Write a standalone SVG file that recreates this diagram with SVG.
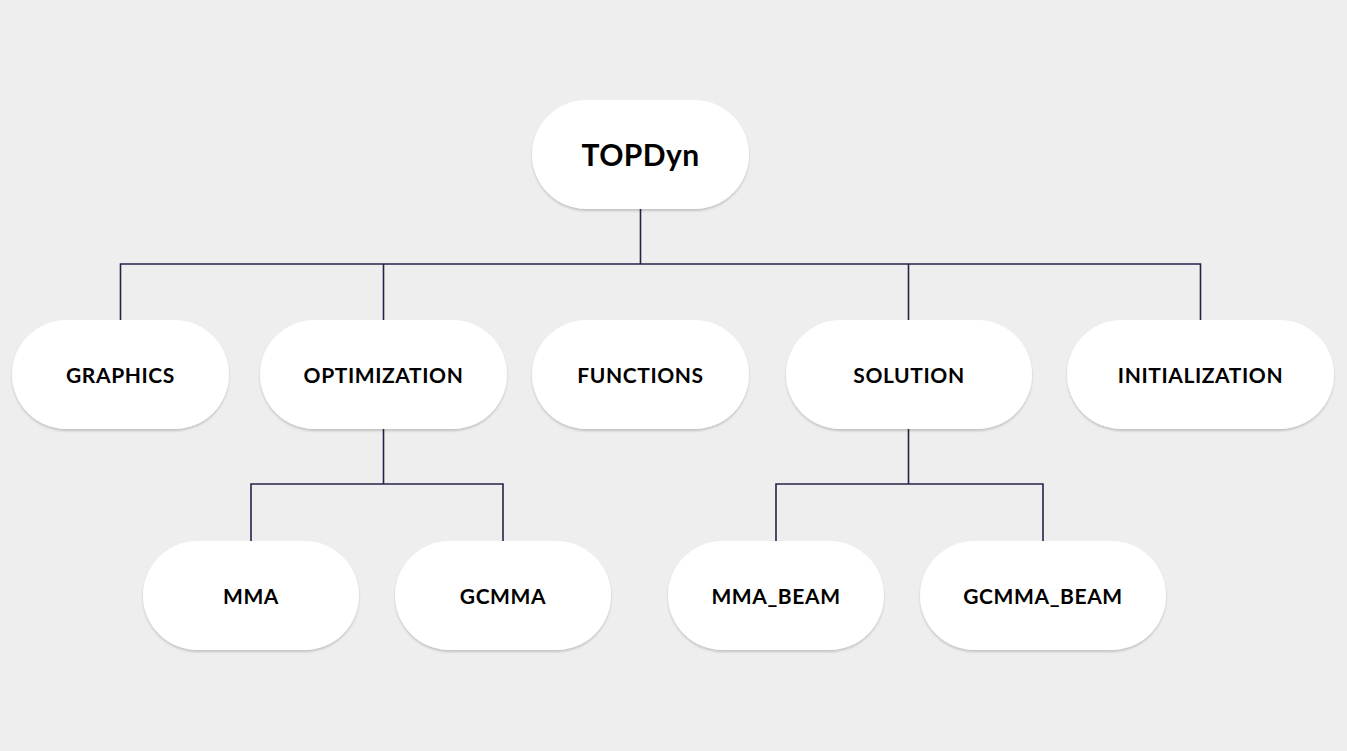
<svg xmlns="http://www.w3.org/2000/svg" width="1347" height="751" viewBox="0 0 1347 751">
<defs>
<filter id="sh" x="-10%" y="-10%" width="120%" height="130%">
<feDropShadow dx="0" dy="2" stdDeviation="1.2" flood-color="#000" flood-opacity="0.18"/>
</filter>
</defs>
<style>
.n{fill:#ffffff;filter:url(#sh)}
.t{font-family:"Lato","Open Sans",sans-serif;font-weight:700;font-size:21px;letter-spacing:0.6px;fill:#000;text-anchor:middle;dominant-baseline:central}
.big{font-size:30px;letter-spacing:0.4px}
.c{stroke:#24244a;stroke-width:1.6;fill:none}
</style>
<rect width="1347" height="751" fill="#eeeeee"/>
<g id="connectors">
<path class="c" d="M640.5 209V264M120.5 320V264H1200.5V320M383.5 264V320M908.5 264V320"/>
<path class="c" d="M383.5 429V484M251 541V484H503V541"/>
<path class="c" d="M908.5 429V484M776 541V484H1043V541"/>
</g>
<g id="topdyn"><rect class="n" x="532" y="100" width="217" height="109" rx="54.5"/><text class="t big" x="640.5" y="154">TOPDyn</text></g>
<g id="graphics"><rect class="n" x="12" y="320" width="217" height="109" rx="54.5"/><text class="t" x="120.5" y="374">GRAPHICS</text></g>
<g id="optimization"><rect class="n" x="260" y="320" width="247" height="109" rx="54.5"/><text class="t" x="383.5" y="374">OPTIMIZATION</text></g>
<g id="functions"><rect class="n" x="532" y="320" width="217" height="109" rx="54.5"/><text class="t" x="640.5" y="374">FUNCTIONS</text></g>
<g id="solution"><rect class="n" x="786" y="320" width="246" height="109" rx="54.5"/><text class="t" x="909" y="374">SOLUTION</text></g>
<g id="initialization"><rect class="n" x="1067" y="320" width="267" height="109" rx="54.5"/><text class="t" x="1200.5" y="374">INITIALIZATION</text></g>
<g id="mma"><rect class="n" x="143" y="541" width="216" height="109" rx="54.5"/><text class="t" x="251" y="595">MMA</text></g>
<g id="gcmma"><rect class="n" x="395" y="541" width="216" height="109" rx="54.5"/><text class="t" x="503" y="595">GCMMA</text></g>
<g id="mma_beam"><rect class="n" x="668" y="541" width="216" height="109" rx="54.5"/><text class="t" x="776" y="595">MMA_BEAM</text></g>
<g id="gcmma_beam"><rect class="n" x="920" y="541" width="246" height="109" rx="54.5"/><text class="t" x="1043" y="595">GCMMA_BEAM</text></g>
</svg>
